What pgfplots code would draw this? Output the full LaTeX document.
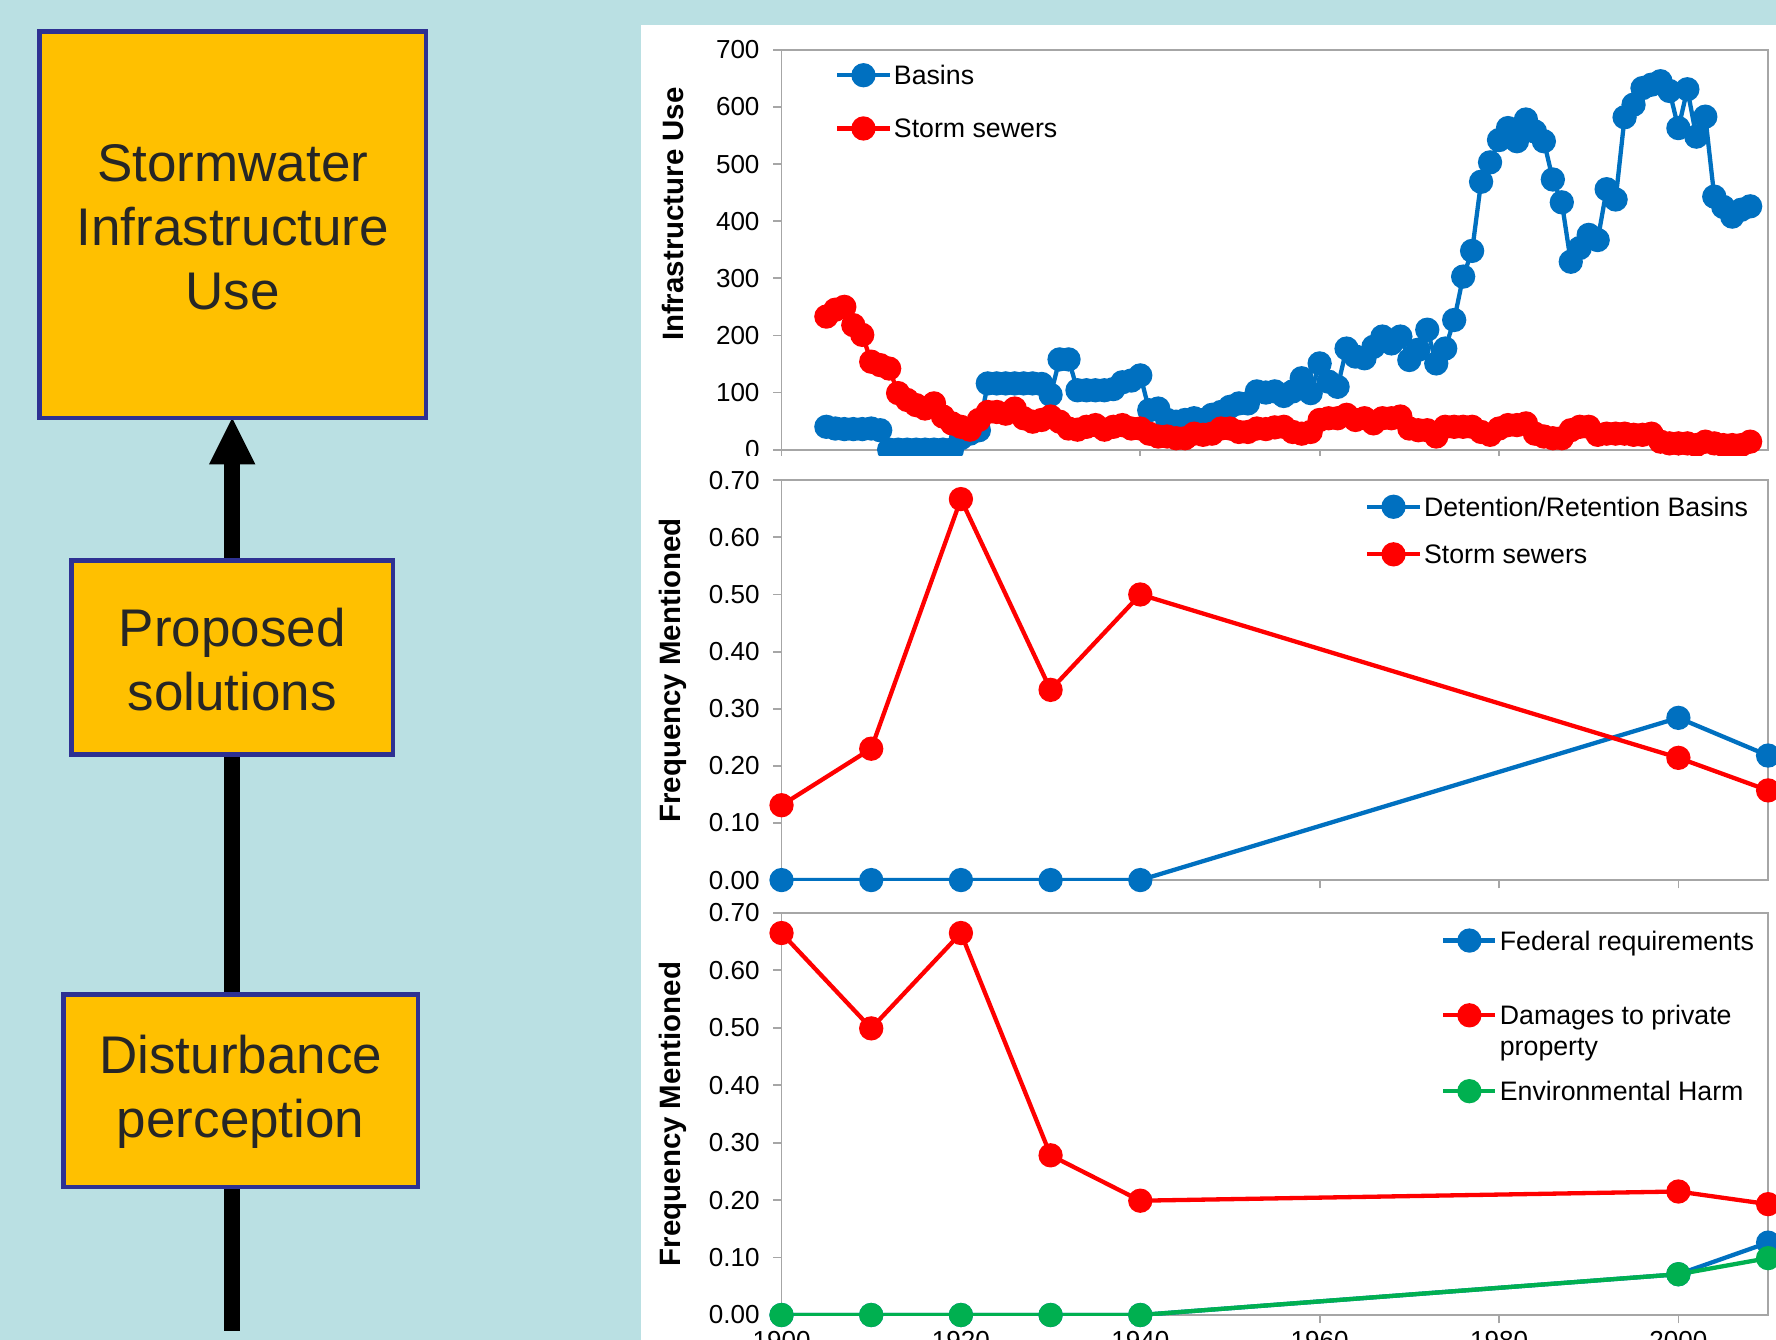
\documentclass[border=0pt]{standalone}
\usepackage{fontspec}
\setmainfont{Liberation Sans}
\usepackage{pgfplots}
\usepackage{pgfplotstable}
\pgfplotsset{compat=1.18}

\definecolor{bgteal}{RGB}{186,224,227}
\definecolor{boxorange}{RGB}{255,192,0}
\definecolor{boxnavy}{RGB}{46,49,146}
\definecolor{boxtext}{RGB}{38,38,38}
\definecolor{xlblue}{RGB}{0,112,192}
\definecolor{xlred}{RGB}{255,0,0}
\definecolor{xlgreen}{RGB}{0,176,80}
\definecolor{framegray}{RGB}{166,166,166}

\newcommand\tickfont{\fontsize{11.5}{13}\selectfont}
\newcommand\legfont{\fontsize{11.8}{13.5}\selectfont}
\newcommand\labfont{\bfseries\fontsize{13}{15}\selectfont}
\newcommand\boxfont{\fontsize{23.4}{28.3}\selectfont}

% infrastructure use per year
\pgfplotstableread{
year basins sewers
1905 40 233
1906 37 245
1907 36 250
1908 36 218
1909 36 201
1910 37 154
1911 34 148
1912 0 142
1913 0 99
1914 0 87
1915 0 78
1916 0 72
1917 0 81
1918 0 58
1919 0 46
1920 20 40
1921 28 35
1922 34 52
1923 116 66
1924 116 66
1925 116 63
1926 116 72
1927 116 55
1928 116 49
1929 115 52
1930 96 58
1931 158 49
1932 158 37
1933 104 35
1934 104 40
1935 104 43
1936 104 35
1937 106 40
1938 118 43
1939 121 37
1940 130 37
1941 69 28
1942 72 23
1943 52 23
1944 49 20
1945 52 20
1946 55 28
1947 52 26
1948 61 28
1949 66 37
1950 75 37
1951 81 31
1952 81 31
1953 102 37
1954 100 36
1955 102 39
1956 94 40
1957 102 31
1958 125 28
1959 99 31
1960 151 52
1961 119 55
1962 110 55
1963 177 61
1964 163 52
1965 160 55
1966 180 46
1967 198 55
1968 186 55
1969 198 58
1970 157 37
1971 175 34
1972 210 34
1973 151 23
1974 177 40
1975 227 40
1976 303 40
1977 348 40
1978 469 31
1979 503 26
1980 542 37
1981 563 43
1982 540 43
1983 578 46
1984 557 28
1985 540 23
1986 473 20
1987 433 20
1988 329 34
1989 353 40
1990 376 40
1991 367 26
1992 456 28
1993 438 28
1994 582 28
1995 604 26
1996 633 26
1997 639 28
1998 645 14
1999 628 11
2000 563 11
2001 631 11
2002 548 8
2003 583 14
2004 443 11
2005 425 8
2006 408 8
2007 420 8
2008 426 14
}\infratable

% proposed solutions
\pgfplotstableread{
year basins sewers
1900 0 0.131
1910 0 0.230
1920 0 0.667
1930 0 0.333
1940 0 0.500
2000 0.284 0.214
2010 0.218 0.157
}\solutable

% disturbance perception
\pgfplotstableread{
year federal damages environ
1900 0 0.665 0
1910 0 0.499 0
1920 0 0.665 0
1930 0 0.278 0
1940 0 0.199 0
2000 0.071 0.215 0.071
2010 0.126 0.193 0.099
}\disttable

\pgfplotsset{
  panel/.style={
    scale only axis, width=435.5pt, anchor=south west,
    xmin=1900, xmax=2010,
    xtick={1900,1920,1940,1960,1980,2000},
    axis line style={draw=framegray, line width=0.8pt},
    every tick/.style={draw=framegray, line width=0.8pt},
    tick align=outside, xtick pos=left, ytick pos=left,
    major tick length=3.7pt,
    /pgf/number format/assume math mode=true,
    /pgf/number format/1000 sep={},
    ticklabel style={font=\tickfont, text=black},
    yticklabel style={xshift=-2.5pt},
    ylabel style={font=\labfont, anchor=center},
    legend style={draw=none, fill=none, anchor=north west,
      inner sep=0pt, row sep=0pt, column sep=1pt,
      font=\legfont, nodes={inner sep=0pt}},
    legend cell align=left,
    legend image code/.code={
      \draw[mark repeat=2, mark phase=2] plot coordinates {(0pt,0pt) (11.5pt,0pt) (23pt,0pt)};},
    every axis plot/.append style={line width=1.9pt, mark=*, mark size=4.4pt},
  },
  fracticks/.style={
    ymin=0, ymax=0.7, ytick={0,0.1,0.2,0.3,0.4,0.5,0.6,0.7},
    yticklabel style={/pgf/number format/.cd, fixed, fixed zerofill, precision=2},
  },
}

\begin{document}
\begin{tikzpicture}
\useasboundingbox (0,0) rectangle (784pt,591.5pt);
\fill[bgteal] (0,0) rectangle (784pt,591.5pt);
\fill[white] (283pt,0) rectangle (784pt,580.5pt);

% arrow behind the boxes
\fill[black] (99pt,4pt) rectangle (106pt,387pt);
\fill[black] (92.25pt,386.5pt) -- (112.75pt,386.5pt) -- (102.5pt,407pt) -- cycle;

% boxes
\filldraw[fill=boxorange, draw=boxnavy, line width=2pt] (17.5pt,407pt) rectangle (188pt,577.5pt);
\filldraw[fill=boxorange, draw=boxnavy, line width=2pt] (31.5pt,258.5pt) rectangle (173.5pt,344pt);
\filldraw[fill=boxorange, draw=boxnavy, line width=2pt] (28pt,67.5pt) rectangle (184.5pt,152.5pt);
\node[text=boxtext, font=\boxfont, align=center] at (102.75pt,491.25pt) {Stormwater\\Infrastructure\\Use};
\node[text=boxtext, font=\boxfont, align=center] at (102.5pt,300.5pt) {Proposed\\solutions};
\node[text=boxtext, font=\boxfont, align=center] at (106.25pt,109.5pt) {Disturbance\\perception};

% top: infrastructure use
\begin{axis}[panel, at={(345pt,393pt)}, height=176.5pt,
    ymin=0, ymax=700, ytick={0,100,...,700}, xticklabels={},
    ylabel={Infrastructure Use},
    ylabel style={at={(axis description cs:-0.110,0.589)}},
    legend style={at={(axis description cs:0.054,1.0042)}}]
  \addplot[color=xlblue] table[x=year, y=basins] {\infratable};
  \addlegendentry[text height=15.95pt, text depth=7.55pt]{Basins}
  \addplot[color=xlred] table[x=year, y=sewers] {\infratable};
  \addlegendentry[text height=15.95pt, text depth=7.55pt]{Storm sewers}
\end{axis}

\fill[white] (283pt,0) rectangle (784pt,390pt);

% middle: proposed solutions
\begin{axis}[panel, fracticks, at={(345pt,203pt)}, height=176.5pt,
    xticklabels={},
    ylabel={Frequency Mentioned},
    ylabel style={at={(axis description cs:-0.110,0.524)}},
    legend style={at={(axis description cs:0.5913,0.9943)}}]
  \addplot[color=xlblue] table[x=year, y=basins] {\solutable};
  \addlegendentry[text height=14.7pt, text depth=6.3pt]{Detention/Retention Basins}
  \addplot[color=xlred] table[x=year, y=sewers] {\solutable};
  \addlegendentry[text height=14.7pt, text depth=6.3pt]{Storm sewers}
\end{axis}

% bottom: disturbance perception
\begin{axis}[panel, fracticks, at={(345pt,11pt)}, height=177.5pt,
    ylabel={Frequency Mentioned},
    ylabel style={at={(axis description cs:-0.110,0.5)}},
    legend style={at={(axis description cs:0.6682,1.0704)}}]
  \addplot[color=xlblue] table[x=year, y=federal] {\disttable};
  \addlegendentry[text height=28.7pt, text depth=20.3pt]{Federal requirements}
  \addplot[color=xlred] table[x=year, y=damages] {\disttable};
  \addlegendentry[text height=12.7pt, text depth=4.3pt]{Damages to private}
  \addlegendimage{empty legend}
  \addlegendentry[text height=9.2pt, text depth=9.8pt]{property}
  \addplot[color=xlgreen] table[x=year, y=environ] {\disttable};
  \addlegendentry[text height=10.2pt, text depth=1.8pt]{Environmental Harm}
\end{axis}
\end{tikzpicture}
\end{document}
